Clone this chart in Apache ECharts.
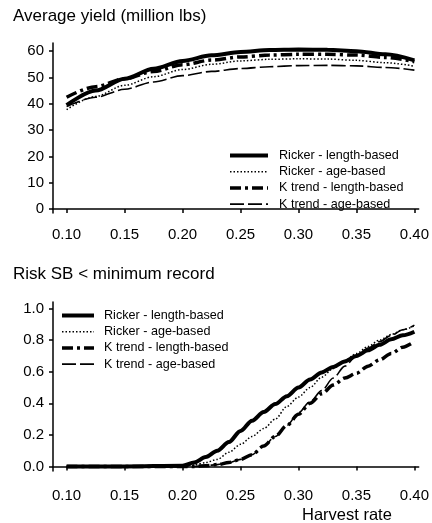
<!DOCTYPE html>
<html>
<head>
<meta charset="utf-8">
<script src="https://cdn.jsdelivr.net/npm/echarts@6/dist/echarts.min.js"></script>
<style>
  html, body { margin: 0; padding: 0; background: #fff; }
  #chart { width: 432px; height: 523px; }
</style>
</head>
<body>
<div id="chart"></div>
<script>
// top panel: average yield (million lbs)
const yieldRates = [0.10, 0.125, 0.15, 0.175, 0.20, 0.225, 0.25, 0.275, 0.30, 0.325, 0.35, 0.375, 0.40];
const yieldRickerLength = [39.5, 45, 49.5, 53.3, 56.3, 58.4, 59.7, 60.4, 60.6, 60.5, 60, 58.8, 56.5];
const yieldRickerAge = [37.8, 42.8, 47, 50.3, 53, 55, 56.3, 56.9, 57.1, 57, 56.5, 55.6, 54.3];
const yieldKLength = [42.5, 46.5, 49.5, 52.3, 54.8, 56.6, 57.8, 58.5, 58.8, 58.8, 58.5, 57.6, 56];
const yieldKAge = [39, 42.5, 45.5, 48.3, 50.7, 52.3, 53.4, 54.1, 54.5, 54.6, 54.4, 53.8, 52.8];

// bottom panel: risk SB < minimum record
const riskRates = [0.10, 0.15, 0.20, 0.21, 0.22, 0.23, 0.24, 0.25, 0.26, 0.27, 0.28, 0.29, 0.30,
  0.31, 0.32, 0.33, 0.34, 0.35, 0.36, 0.37, 0.38, 0.39, 0.40];
const riskRickerLength = [0, 0, 0.005, 0.025, 0.06, 0.10, 0.155, 0.225, 0.29, 0.345, 0.395, 0.445, 0.50,
  0.55, 0.595, 0.63, 0.665, 0.70, 0.735, 0.77, 0.805, 0.83, 0.853];
const riskRickerAge = [0, 0, 0, 0.01, 0.025, 0.045, 0.09, 0.14, 0.19, 0.24, 0.30, 0.38, 0.44,
  0.50, 0.565, 0.62, 0.67, 0.715, 0.76, 0.80, 0.835, 0.865, 0.89];
const riskKLength = [0, 0, 0, 0, 0.005, 0.012, 0.025, 0.045, 0.075, 0.13, 0.19, 0.26, 0.33,
  0.40, 0.46, 0.515, 0.56, 0.59, 0.635, 0.675, 0.715, 0.755, 0.79];
const riskKAge = [0, 0, 0, 0, 0.005, 0.012, 0.025, 0.045, 0.075, 0.13, 0.19, 0.26, 0.34,
  0.41, 0.48, 0.56, 0.635, 0.70, 0.75, 0.79, 0.83, 0.865, 0.895];

const rateTicks = [0.10, 0.15, 0.20, 0.25, 0.30, 0.35, 0.40];
const yieldTicks = [0, 10, 20, 30, 40, 50, 60];
const riskTicks = [0, 0.2, 0.4, 0.6, 0.8, 1.0];

const names = ["Ricker - length-based", "Ricker - age-based", "K trend - length-based", "K trend - age-based"];

const font = "Liberation Sans, Arial, sans-serif";

function pairs(xs, ys) {
  return xs.map((x, i) => [x, ys[i]]);
}

const styles = [
  { width: 4, type: "solid" },
  { width: 1.5, type: [1.5, 2] },
  { width: 3.5, type: [11, 4, 3, 4] },
  { width: 1.6, type: [14, 4] },
];

function makeSeries(idx, data, xi, yi) {
  return {
    name: names[idx],
    type: "line",
    xAxisIndex: xi,
    yAxisIndex: yi,
    data: data,
    smooth: 0.3,
    smoothMonotone: "x",
    symbol: "none",
    lineStyle: { color: "#000", width: styles[idx].width, type: styles[idx].type, cap: "butt" },
    itemStyle: { color: "#000" },
    z: 5 - idx,
  };
}

function xAxisFor(gridIndex, margin) {
  return {
    type: "value",
    gridIndex: gridIndex,
    min: 0.08826,
    max: 0.40369,
    splitLine: { show: false },
    axisLine: { lineStyle: { color: "#000", width: 1.5 } },
    axisTick: { customValues: rateTicks, length: 4, lineStyle: { color: "#000", width: 1.5 } },
    axisLabel: {
      customValues: rateTicks,
      formatter: (v) => v.toFixed(2),
      color: "#000",
      fontFamily: font,
      fontSize: 15,
      margin: margin,
    },
  };
}

function yAxisFor(gridIndex, min, max, ticks, digits) {
  return {
    type: "value",
    gridIndex: gridIndex,
    min: min,
    max: max,
    splitLine: { show: false },
    axisLine: { show: true, lineStyle: { color: "#000", width: 1.5 } },
    axisTick: { show: true, customValues: ticks, length: 4, lineStyle: { color: "#000", width: 1.5 } },
    axisLabel: {
      customValues: ticks,
      formatter: (v) => v.toFixed(digits),
      color: "#000",
      fontFamily: font,
      fontSize: 15,
      margin: 9,
    },
  };
}

function legendAt(left, top, iconWidth, textGap) {
  return {
    data: names,
    orient: "vertical",
    left: left,
    top: top,
    padding: 0,
    itemWidth: iconWidth,
    itemHeight: 12,
    itemGap: 3.2,
    itemStyle: { color: "rgba(0,0,0,0)", opacity: 0, borderWidth: 0 },
    lineStyle: { width: "inherit", type: "inherit" },
    textStyle: {
      fontFamily: font,
      fontSize: 12.6,
      lineHeight: 12,
      color: "#000",
      padding: [0, 0, 0, textGap],
    },
    selectedMode: false,
  };
}

const chart = echarts.init(document.getElementById("chart"), null, { renderer: "canvas" });

chart.setOption({
  animation: false,
  backgroundColor: "#fff",
  title: [
    {
      text: "Average yield (million lbs)",
      left: 8,
      top: 3,
      textStyle: { fontFamily: font, fontSize: 17, fontWeight: "normal", color: "#000" },
    },
    {
      text: "Risk SB < minimum record",
      left: 8,
      top: 261,
      textStyle: { fontFamily: font, fontSize: 17, fontWeight: "normal", color: "#000" },
    },
  ],
  grid: [
    { left: 53, right: 11, top: 43, bottom: 310 },
    { left: 53, right: 11, top: 302, bottom: 52 },
  ],
  xAxis: [xAxisFor(0, 14), xAxisFor(1, 17)],
  yAxis: [
    yAxisFor(0, -1.52, 63.1, yieldTicks, 0),
    yAxisFor(1, -0.0285, 1.041, riskTicks, 1),
  ],
  legend: [legendAt(228, 149, 38, 6), legendAt(60, 309, 32, 5)],
  graphic: [
    {
      type: "text",
      left: 302,
      top: 507,
      style: { text: "Harvest rate", fontFamily: font, fontSize: 16.5, fill: "#000" },
    },
  ],
  series: [
    makeSeries(0, pairs(yieldRates, yieldRickerLength), 0, 0),
    makeSeries(1, pairs(yieldRates, yieldRickerAge), 0, 0),
    makeSeries(2, pairs(yieldRates, yieldKLength), 0, 0),
    makeSeries(3, pairs(yieldRates, yieldKAge), 0, 0),
    makeSeries(0, pairs(riskRates, riskRickerLength), 1, 1),
    makeSeries(1, pairs(riskRates, riskRickerAge), 1, 1),
    makeSeries(2, pairs(riskRates, riskKLength), 1, 1),
    makeSeries(3, pairs(riskRates, riskKAge), 1, 1),
  ],
});
</script>
</body>
</html>
